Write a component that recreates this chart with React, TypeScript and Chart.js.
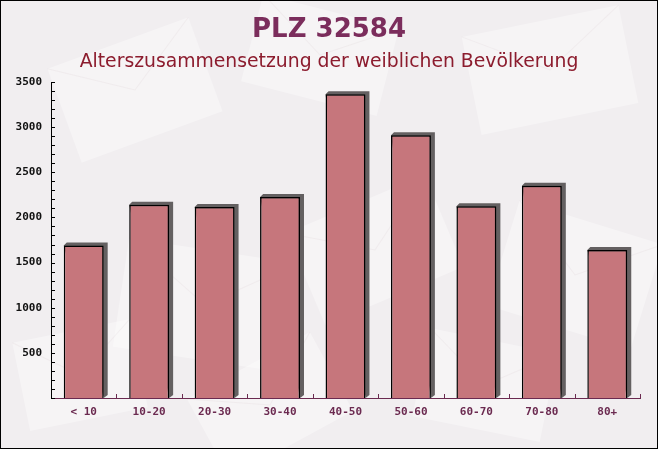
import React, { useEffect, useRef } from "react";
import { Chart, registerables } from "chart.js";

Chart.register(...registerables);

const categories = ["< 10", "10-20", "20-30", "30-40", "40-50", "50-60", "60-70", "70-80", "80+"];
const values = [1690, 2140, 2115, 2225, 3365, 2910, 2125, 2350, 1640];
const yMax = 3500;
const yStep = 500;
const yMinorStep = 100;
const titleText = "PLZ 32584";
const subtitleText = "Alterszusammensetzung der weiblichen Bevölkerung";

const envelopes = [
  { x: 60, y: 40, w: 150, h: 100, r: -0.35 },
  { x: 250, y: 10, w: 140, h: 90, r: 0.25 },
  { x: 470, y: 20, w: 160, h: 100, r: -0.2 },
  { x: 120, y: 250, w: 170, h: 110, r: 0.15 },
  { x: 300, y: 200, w: 150, h: 100, r: -0.4 },
  { x: 500, y: 220, w: 150, h: 110, r: 0.3 },
  { x: 20, y: 330, w: 120, h: 90, r: -0.2 },
  { x: 200, y: 360, w: 140, h: 90, r: -0.5 },
  { x: 420, y: 340, w: 130, h: 90, r: 0.2 },
];

const decorPlugin = {
  id: "decor",
  beforeDraw(chart: any) {
    const ctx = chart.ctx;
    ctx.save();
    ctx.fillStyle = "#f1eef0";
    ctx.fillRect(0, 0, chart.width, chart.height);
    for (const e of envelopes) {
      ctx.save();
      ctx.translate(e.x + e.w / 2, e.y + e.h / 2);
      ctx.rotate(e.r);
      ctx.fillStyle = "rgba(255,255,255,0.35)";
      ctx.fillRect(-e.w / 2, -e.h / 2, e.w, e.h);
      ctx.strokeStyle = "rgba(225,210,215,0.25)";
      ctx.beginPath();
      ctx.moveTo(-e.w / 2, -e.h / 2);
      ctx.lineTo(0, 0);
      ctx.lineTo(e.w / 2, -e.h / 2);
      ctx.stroke();
      ctx.restore();
    }
    ctx.restore();
  },
  beforeDatasetsDraw(chart: any) {
    const ctx = chart.ctx;
    const meta = chart.getDatasetMeta(0);
    ctx.save();
    ctx.fillStyle = "rgb(100,96,97)";
    for (const bar of meta.data) {
      const left = bar.x - bar.width / 2;
      const right = bar.x + bar.width / 2;
      const top = bar.y;
      const bottom = bar.base;
      ctx.beginPath();
      ctx.moveTo(left, top);
      ctx.lineTo(left + 3, top - 3);
      ctx.lineTo(right + 4, top - 3);
      ctx.lineTo(right + 4, bottom - 3);
      ctx.lineTo(right, bottom);
      ctx.closePath();
      ctx.fill();
    }
    ctx.restore();
  },
  afterDraw(chart: any) {
    const ctx = chart.ctx;
    const area = chart.chartArea;
    const ys = chart.scales.y;
    ctx.save();
    ctx.strokeStyle = "#000";
    ctx.lineWidth = 1;
    for (let v = 0; v <= yMax; v += yMinorStep) {
      const y = Math.round(ys.getPixelForValue(v)) + 0.5;
      ctx.beginPath();
      ctx.moveTo(area.left, y);
      ctx.lineTo(area.left + 4, y);
      ctx.stroke();
    }
    ctx.strokeStyle = "#6b2a50";
    const n = categories.length;
    for (let i = 1; i <= n; i++) {
      const x = Math.round(area.left + ((area.right - area.left) * i) / n) + 0.5;
      ctx.beginPath();
      ctx.moveTo(x, area.bottom);
      ctx.lineTo(x, area.bottom - 4);
      ctx.stroke();
    }
    ctx.textAlign = "center";
    ctx.textBaseline = "middle";
    ctx.fillStyle = "#7b2d5c";
    ctx.font = "bold 26px 'DejaVu Sans'";
    ctx.fillText(titleText, chart.width / 2, 30);
    ctx.fillStyle = "#8c1c2e";
    ctx.font = "18.8px 'DejaVu Sans'";
    ctx.fillText(subtitleText, chart.width / 2, 62);
    ctx.strokeStyle = "#000";
    ctx.strokeRect(0.5, 0.5, chart.width - 1, chart.height - 1);
    ctx.restore();
  },
};

export default function App() {
  const ref = useRef<HTMLCanvasElement>(null);
  useEffect(() => {
    if (!ref.current) return;
    const chart = new Chart(ref.current, {
      type: "bar",
      data: {
        labels: categories,
        datasets: [
          {
            data: values,
            backgroundColor: "rgb(198,118,124)",
            borderColor: "#000",
            borderWidth: 1.5,
            barPercentage: 0.61,
            categoryPercentage: 1,
          },
        ],
      },
      options: {
        responsive: false,
        animation: false,
        layout: { padding: { top: 82, right: 18, left: 0, bottom: 0 } },
        plugins: { legend: { display: false }, tooltip: { enabled: false }, title: { display: false } },
        scales: {
          x: {
            grid: { display: false, drawTicks: false },
            border: { display: true, color: "#6b2a50", width: 1 },
            ticks: { color: "#6b2a50", font: { family: "'DejaVu Sans Mono'", size: 11, weight: "bold" }, padding: 8 },
            afterFit(scale: any) {
              scale.height = 51;
            },
          },
          y: {
            min: 0,
            max: yMax,
            grid: { display: false, drawTicks: false },
            border: { display: true, color: "#000", width: 1 },
            ticks: {
              stepSize: yStep,
              color: "#111",
              font: { family: "'DejaVu Sans Mono'", size: 11, weight: "bold" },
              padding: 9,
              callback: (v: any) => (v === 0 ? "" : String(v)),
            },
            afterFit(scale: any) {
              scale.width = 51;
            },
          },
        },
      },
      plugins: [decorPlugin],
    });
    return () => chart.destroy();
  }, []);
  return (
    <div style={{ position: "absolute", left: 0, top: 0, width: 658, height: 449 }}>
      <canvas ref={ref} width={658} height={449} style={{ display: "block" }} />
    </div>
  );
}
